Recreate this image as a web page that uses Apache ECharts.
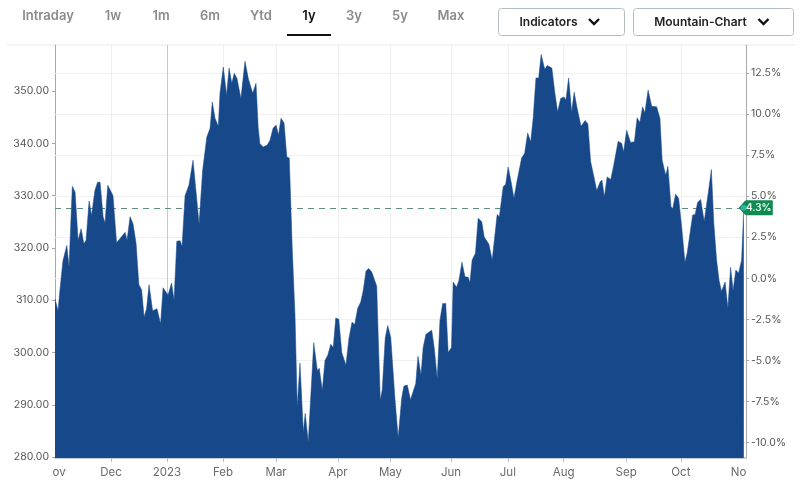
<!DOCTYPE html>
<html><head><meta charset="utf-8">
<style>html,body{margin:0;padding:0;background:#fff}#c{width:800px;height:486px}</style>
<script src="https://cdn.jsdelivr.net/npm/echarts@6/dist/echarts.min.js"></script>
</head><body><div id="c"></div>
<script>
const sessions=[0,1.1,1.8,2.9,4.3,5.1,6.3,7.3,8.4,9.5,10.5,11.3,12.4,13.3,14.5,15.5,16.4,17.5,18.2,19.2,21.1,22.4,25.5,26.2,27.3,28.4,29.5,30.5,31.5,32.4,33.3,34.2,35.5,37.1,38.4,39.3,41.1,42.4,43.3,44.3,45.5,46.2,47.3,48.7,50.2,52.4,53.7,55.2,56.4,57.2,58.2,59.4,60,61.2,62.4,63.3,64.3,65.2,66.2,67.6,69.1,70.3,71.9,73.1,73.9,74.5,75.7,77.2,78.2,79.3,80.4,81.3,82.2,83.3,84.3,85.2,86.3,87.3,88.1,89.1,90.3,91,92.1,94.1,95.4,96.1,97.2,98.2,99.2,100.3,101.2,102.1,103.2,104.3,105.8,106.9,108,109,110.1,111.2,112.1,113.1,114.1,115.2,117,117.7,118.3,119,120.1,121,122.1,123.6,124.8,126.1,126.9,128.1,129.3,129.9,131.2,132,133.1,133.9,134.9,137,137.9,139,140,141,142.1,143,144.2,144.8,146,146.9,148,149.1,150.3,150.9,151.7,152.9,153.9,155.2,156.1,157.8,159,160.8,161.6,163,163.9,164.8,165.9,166.9,168.1,169.7,170.8,171.9,173,173.9,174.9,175.9,176.8,178.1,179,180.7,181.8,182.8,183.9,185.1,185.8,186.8,187.9,188.8,189.9,191.3,192.8,193.8,194.8,196,197,198.2,198.9,199.8,200.8,202.1,203,204.8,206.1,206.8,207.9,209.3,210.7,211.7,212.7,213.7,214.5,215.7,217,218.8,220,220.8,222.1,222.9,224,224.6,225.7,226.8,227.9,229.1,229.9,231.9,232.8,233.7,234.8,236.1,236.7,237.7,238.7,239.6,240.6,241.5,242.4,243.7,244.7,245.7,246.6,247.6,248.6,249.7,250.5];
const prices=[310.3,308,312,317.6,320.5,316.4,331.8,330.7,321.5,323.7,320.8,321.5,329,326.2,331,332.6,332.6,326,324.8,332,330,321,323,321.5,326,324.6,320.8,313,312,306.8,308.4,313,308,308.4,305.5,312.4,311,313.3,310,321.3,321.4,320.3,330,332,336.8,324.6,334.9,341.2,342.9,347.9,344.8,343.3,349.6,354.6,349.2,354.4,351.5,353.4,352.4,348.6,355.7,352.4,349.6,351.5,343,340,339.3,339.7,340.6,342.9,343.5,341.6,344.8,343.9,337.4,337.2,319.6,306.8,289.6,298,284.8,288.4,282.9,301.9,296.6,297,292.8,298.5,299.5,301.6,301,306.6,306.4,300,297.6,302.7,305.8,305.4,308.5,309.7,311.9,315.6,316.1,315.4,312.7,300.5,291,292.8,302.8,305.2,302.9,291.4,283.7,291.4,293.6,293.8,291,291,294.1,299.3,295.7,301,303.5,304.3,301,295,306.2,309.4,309.4,300,301,313.5,312.5,313.8,317.3,314.5,314.4,313.3,317.7,319,325.7,325,322.1,320.7,317.7,326.4,326,331.7,332.2,335.5,332.6,329.5,333,337.2,338.1,342,340.3,344.8,352.5,352.5,357,354.2,354.9,354.4,349.6,346,348.6,348.9,348.3,352.5,346,349.8,346.7,343.3,344.4,343.7,336.5,333.6,331,332.6,333,329.8,333.6,333.1,335.3,340.4,340,338.4,342.5,340.2,340.3,344.9,344,347,345.8,350.2,347.1,347,344.8,336.8,333.9,335.6,328,327.4,330.3,329.5,324,317.3,319,326.3,326.4,328.7,329.3,325.1,325.1,331,335,324.7,317.7,313.8,311.7,313.5,308.5,316.3,311.9,315.8,315.2,317.7,327.7];
const priceTicks=[280,290,300,310,320,330,340,350];
const pctTicks=[-10,-7.5,-5,-2.5,0,2.5,5,7.5,10,12.5];
const monthSessions=[20.4,40.7,61.1,80.4,102.9,122,144,164.7,185,207.7,227.6];
const monthNames=['Dec','2023','Feb','Mar','Apr','May','Jun','Jul','Aug','Sep','Oct'];
const edgeSessions=[1.5,248.6];
const edgeNames=['ov','No'];
const tabs=['Intraday','1w','1m','6m','Ytd','1y','3y','5y','Max'];
const buttons=['Indicators','Mountain-Chart'];
const basePrice=314.2, lastPrice=327.7, lastPct='4.3%';

const F='Inter, "Open Sans", sans-serif';
const pMin=279.85,pMax=358.82;
const toPct=v=>(v/basePrice-1)*100;
const labelVals=[edgeSessions[0],...monthSessions,edgeSessions[1]];
const labelTxt=[edgeNames[0],...monthNames,edgeNames[1]];

const tabX=[48,113,161,210,261,309,354,400,451];
const g=[];
tabs.forEach((t,i)=>g.push({type:'text',style:{text:t,x:tabX[i],y:16,align:'center',verticalAlign:'middle',fill:t==='1y'?'#111':'#8b8b8b',font:'600 13px '+F}}));
g.push({type:'rect',shape:{x:287,y:34,width:44,height:2},style:{fill:'#111'}});
g.push({type:'line',shape:{x1:7,y1:45,x2:795,y2:45},style:{stroke:'#e9e9e9',lineWidth:1}});
[[498,126,548.5,594],[633,160,700.5,763.5]].forEach((b,i)=>{
  g.push({type:'rect',shape:{x:b[0]+.5,y:8.5,width:b[1],height:27,r:3},style:{fill:'#fff',stroke:'#b4bdc4',lineWidth:1}});
  g.push({type:'text',style:{text:buttons[i],x:b[2],y:22,align:'center',verticalAlign:'middle',fill:'#222',font:'600 12px '+F}});
  g.push({type:'polyline',shape:{points:[[b[3]-5,19],[b[3],24],[b[3]+5,19]]},style:{stroke:'#111',lineWidth:2.4,fill:null}});
});

const chart=echarts.init(document.getElementById('c'),null,{renderer:'canvas'});
const silentLine={silent:true,symbol:'none',animation:false,z:1,label:{show:false},emphasis:{disabled:true}};
chart.setOption({
  animation:false,backgroundColor:'#fff',
  graphic:g,
  grid:{left:55,right:54,top:45,height:413,containLabel:false},
  xAxis:{type:'value',min:0,max:251.3,splitLine:{show:false},
    axisLine:{show:true,onZero:false,lineStyle:{color:'#aebfd3',width:1.5}},
    axisTick:{show:true,customValues:monthSessions,length:4,lineStyle:{color:'#aebfd3'}},
    axisLabel:{customValues:labelVals,margin:9,fontFamily:F,fontSize:11.5,
      color:(v,i)=>labelTxt[labelVals.indexOf(v)]==='2023'?'#333':'#6a6a6a',
      formatter:v=>labelTxt[labelVals.indexOf(v)]||'',showMinLabel:true,showMaxLabel:true,hideOverlap:false}},
  yAxis:[
    {type:'value',min:pMin,max:pMax,splitLine:{show:false},
      axisLine:{show:true,onZero:false,lineStyle:{color:'#a8a8a8',width:1}},
      axisTick:{show:true,customValues:priceTicks,length:3,lineStyle:{color:'#a8a8a8'}},
      axisLabel:{customValues:priceTicks,margin:6,fontFamily:F,fontSize:10.5,color:'#555',formatter:v=>v.toFixed(2)}},
    {type:'value',position:'right',min:toPct(pMin),max:toPct(pMax),splitLine:{show:false},
      axisLine:{show:true,onZero:false,lineStyle:{color:'#a8a8a8',width:1}},
      axisTick:{show:true,customValues:pctTicks,length:3,lineStyle:{color:'#a8a8a8'}},
      axisLabel:{customValues:pctTicks,margin:5,fontFamily:F,fontSize:10.5,color:'#555',formatter:v=>v.toFixed(1)+'%'}}
  ],
  series:[
    {type:'line',yAxisIndex:1,z:1,data:[],markLine:{...silentLine,lineStyle:{color:'#f0f0f0',width:1,type:'solid'},
      data:pctTicks.map(v=>({yAxis:v}))}},
    {type:'line',yAxisIndex:0,z:1,data:[],markLine:{...silentLine,lineStyle:{color:'#eeeeee',width:1,type:'solid'},
      data:monthSessions.map((s,i)=>({xAxis:s,lineStyle:monthNames[i]==='2023'?{color:'#c9c9c9',width:1,type:'solid'}:undefined}))}},
    {type:'line',yAxisIndex:0,z:1,data:[],markLine:{...silentLine,lineStyle:{color:'#5e8f7e',width:1,type:[6,5]},
      data:[{yAxis:lastPrice}]}},
    {type:'line',yAxisIndex:0,z:3,showSymbol:false,symbol:'none',smooth:false,
      data:sessions.map((s,i)=>[s,prices[i]]),
      lineStyle:{color:'#17498a',width:.5},areaStyle:{color:'#17498a',opacity:1,origin:'start'},
      markPoint:{silent:true,animation:false,z:6,data:[
        {coord:[sessions[sessions.length-1],lastPrice],symbol:'path://M0 7.5 L6 0.8 Q6.6 0 7.5 0 L33 0 Q34 0 34 1 L34 14 Q34 15 33 15 L7.5 15 Q6.6 15 6 14.2 Z',
          symbolSize:[34,15],symbolKeepAspect:false,symbolOffset:[12,0],itemStyle:{color:'#0f8b52'},
          label:{show:true,position:'inside',offset:[3,0],formatter:lastPct,color:'#e6fff1',fontFamily:F,fontWeight:600,fontSize:10}},
        {coord:[sessions[sessions.length-1],lastPrice],symbol:'circle',symbolSize:6,itemStyle:{color:'#2eb3a5'},label:{show:false}}
      ]}}
  ]
});
</script></body></html>
